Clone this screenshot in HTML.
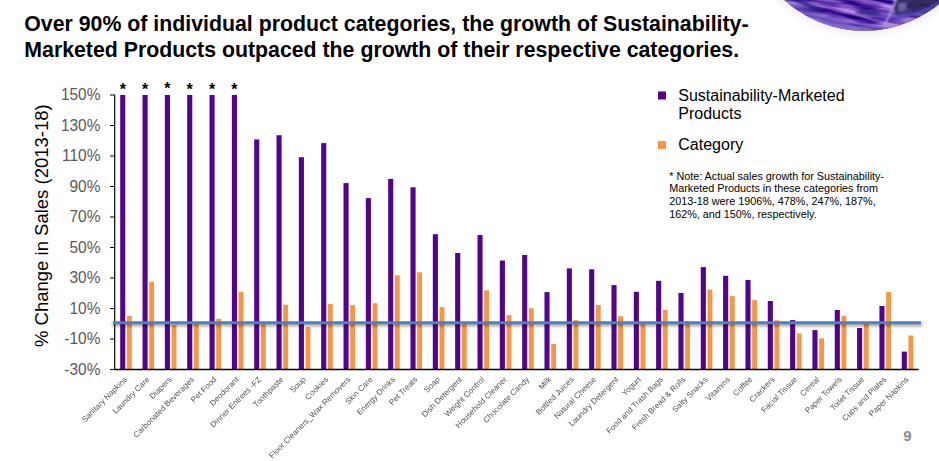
<!DOCTYPE html>
<html><head><meta charset="utf-8"><style>
html,body{margin:0;padding:0;background:#fff;width:939px;height:461px;overflow:hidden;position:relative}
svg{display:block;position:absolute;left:0;top:0}
.lay{will-change:transform}
text{font-family:"Liberation Sans",sans-serif}
.t{font-weight:bold;font-size:21.3px;fill:#000}
.yl{font-size:15px;fill:#595959}
.xl{font-size:8px;fill:#505050}
.star{font-size:16px;font-weight:bold;fill:#000}
.lg{font-size:16px;fill:#000}
.nt{font-size:10.8px;fill:#000}
</style></head><body>
<svg width="939" height="461" viewBox="0 0 939 461">
<defs>
<filter id="tex" x="0" y="0" width="100%" height="100%" color-interpolation-filters="sRGB"><feTurbulence type="fractalNoise" baseFrequency="0.025 0.2" numOctaves="3" seed="7"/><feColorMatrix type="matrix" values="1.2 0 0 0 -0.19  1.1 0 0 0 -0.3  0.8 0 0 0 0.3  0 0 0 0 1"/></filter>
<filter id="gb2" x="-20%" y="-50%" width="140%" height="200%"><feGaussianBlur stdDeviation="0.9"/></filter>
<clipPath id="gclip"><circle cx="864" cy="-87.7" r="118.5"/></clipPath>
<filter id="gb" x="-20%" y="-50%" width="140%" height="200%"><feGaussianBlur stdDeviation="1.3"/></filter>
<filter id="bl" x="-5%" y="-300%" width="110%" height="700%"><feGaussianBlur stdDeviation="1.5"/></filter>
<linearGradient id="sh" x1="0" y1="0" x2="0" y2="1"><stop offset="0" stop-color="#000" stop-opacity="0.35"/><stop offset="1" stop-color="#000" stop-opacity="0"/></linearGradient>
<radialGradient id="gl" cx="0.5" cy="0.5" r="0.5"><stop offset="0" stop-color="#6a5cc4"/><stop offset="0.85" stop-color="#5a4bb5"/><stop offset="1" stop-color="#7d70d0"/></radialGradient>
<radialGradient id="glsh" cx="0.5" cy="0.5" r="0.5"><stop offset="0.9" stop-color="#000" stop-opacity="0.07"/><stop offset="1" stop-color="#000" stop-opacity="0"/></radialGradient>
</defs>
<circle cx="864" cy="-87.5" r="128" fill="url(#glsh)"/>
<g clip-path="url(#gclip)">
<rect x="740" y="-10" width="210" height="50" fill="#5246b6"/>
<rect x="740" y="-10" width="210" height="50" filter="url(#tex)" transform="rotate(8 860 10)"/>
<g filter="url(#gb)" opacity="0.8">
<path d="M782 -2 Q820 14 862 28 L800 40 Z" fill="#8a7bd6" opacity="0.6"/>
<ellipse cx="808" cy="5" rx="20" ry="2.6" transform="rotate(25 808 5)" fill="#2a2288"/>
<ellipse cx="868" cy="13" rx="13" ry="2.4" transform="rotate(5 868 13)" fill="#2a2080"/>
<path d="M800 16 Q850 30 905 25 L900 34 L800 34 Z" fill="#9284d6" opacity="0.7"/>
</g>
<g filter="url(#gb2)">
<path d="M897 -2 L939 -2 L939 6 L928 12 L912 16 L898 18 L893 8 Z" fill="#2c2350" opacity="0.85"/>
<ellipse cx="905" cy="12" rx="7" ry="4" fill="#4a3a8a" opacity="0.7"/>
<path d="M898 3 L907 3 L905 10 L899 11 Z" fill="#6a63a0"/>
<path d="M896 -1 L891 12 L884 26" stroke="#a69ceb" stroke-width="2" fill="none"/>
<path d="M894 16 Q915 18 939 3" stroke="#4d4fc8" stroke-width="2.4" fill="none"/>
</g>
</g>
<text x="24.3" y="30.8" class="t">Over 90% of individual product categories, the growth of Sustainability-</text>
<text x="24.3" y="56.8" class="t">Marketed Products outpaced the growth of their respective categories.</text>
<rect x="120.2" y="95" width="5.1" height="274.5" fill="#53048b"/>
<rect x="126.9" y="316" width="4.9" height="53.5" fill="#f79646"/>
<rect x="142.53" y="95" width="5.1" height="274.5" fill="#53048b"/>
<rect x="149.23" y="281.8" width="4.9" height="87.7" fill="#f79646"/>
<rect x="164.86" y="95" width="5.1" height="274.5" fill="#53048b"/>
<rect x="171.56" y="324.9" width="4.9" height="44.6" fill="#f79646"/>
<rect x="187.19" y="95" width="5.1" height="274.5" fill="#53048b"/>
<rect x="193.89" y="323" width="4.9" height="46.5" fill="#f79646"/>
<rect x="209.52" y="95" width="5.1" height="274.5" fill="#53048b"/>
<rect x="216.22" y="318.9" width="4.9" height="50.6" fill="#f79646"/>
<rect x="231.85" y="95" width="5.1" height="274.5" fill="#53048b"/>
<rect x="238.55" y="291.7" width="4.9" height="77.8" fill="#f79646"/>
<rect x="254.18" y="139.4" width="5.1" height="230.1" fill="#53048b"/>
<rect x="260.88" y="324.2" width="4.9" height="45.3" fill="#f79646"/>
<rect x="276.51" y="135.2" width="5.1" height="234.3" fill="#53048b"/>
<rect x="283.21" y="304.7" width="4.9" height="64.8" fill="#f79646"/>
<rect x="298.84" y="157.2" width="5.1" height="212.3" fill="#53048b"/>
<rect x="305.54" y="327.1" width="4.9" height="42.4" fill="#f79646"/>
<rect x="321.17" y="143.1" width="5.1" height="226.4" fill="#53048b"/>
<rect x="327.87" y="304.1" width="4.9" height="65.4" fill="#f79646"/>
<rect x="343.5" y="183.1" width="5.1" height="186.4" fill="#53048b"/>
<rect x="350.2" y="305.1" width="4.9" height="64.4" fill="#f79646"/>
<rect x="365.83" y="198.1" width="5.1" height="171.4" fill="#53048b"/>
<rect x="372.53" y="303.2" width="4.9" height="66.3" fill="#f79646"/>
<rect x="388.16" y="178.9" width="5.1" height="190.6" fill="#53048b"/>
<rect x="394.86" y="275.3" width="4.9" height="94.2" fill="#f79646"/>
<rect x="410.49" y="187.3" width="5.1" height="182.2" fill="#53048b"/>
<rect x="417.19" y="272.3" width="4.9" height="97.2" fill="#f79646"/>
<rect x="432.82" y="234.2" width="5.1" height="135.3" fill="#53048b"/>
<rect x="439.52" y="307.1" width="4.9" height="62.4" fill="#f79646"/>
<rect x="455.15" y="253" width="5.1" height="116.5" fill="#53048b"/>
<rect x="461.85" y="324.2" width="4.9" height="45.3" fill="#f79646"/>
<rect x="477.48" y="235" width="5.1" height="134.5" fill="#53048b"/>
<rect x="484.18" y="290.4" width="4.9" height="79.1" fill="#f79646"/>
<rect x="499.81" y="260.5" width="5.1" height="109" fill="#53048b"/>
<rect x="506.51" y="315.1" width="4.9" height="54.4" fill="#f79646"/>
<rect x="522.14" y="255" width="5.1" height="114.5" fill="#53048b"/>
<rect x="528.84" y="308.2" width="4.9" height="61.3" fill="#f79646"/>
<rect x="544.47" y="292.1" width="5.1" height="77.4" fill="#53048b"/>
<rect x="551.17" y="344" width="4.9" height="25.5" fill="#f79646"/>
<rect x="566.8" y="268.4" width="5.1" height="101.1" fill="#53048b"/>
<rect x="573.5" y="320.2" width="4.9" height="49.3" fill="#f79646"/>
<rect x="589.13" y="269.3" width="5.1" height="100.2" fill="#53048b"/>
<rect x="595.83" y="305" width="4.9" height="64.5" fill="#f79646"/>
<rect x="611.46" y="285.1" width="5.1" height="84.4" fill="#53048b"/>
<rect x="618.16" y="316.2" width="4.9" height="53.3" fill="#f79646"/>
<rect x="633.79" y="291.8" width="5.1" height="77.7" fill="#53048b"/>
<rect x="640.49" y="324" width="4.9" height="45.5" fill="#f79646"/>
<rect x="656.12" y="280.8" width="5.1" height="88.7" fill="#53048b"/>
<rect x="662.82" y="309.9" width="4.9" height="59.6" fill="#f79646"/>
<rect x="678.45" y="293" width="5.1" height="76.5" fill="#53048b"/>
<rect x="685.15" y="321.1" width="4.9" height="48.4" fill="#f79646"/>
<rect x="700.78" y="267.1" width="5.1" height="102.4" fill="#53048b"/>
<rect x="707.48" y="289.6" width="4.9" height="79.9" fill="#f79646"/>
<rect x="723.11" y="275.8" width="5.1" height="93.7" fill="#53048b"/>
<rect x="729.81" y="296.1" width="4.9" height="73.4" fill="#f79646"/>
<rect x="745.44" y="280" width="5.1" height="89.5" fill="#53048b"/>
<rect x="752.14" y="300.1" width="4.9" height="69.4" fill="#f79646"/>
<rect x="767.77" y="301" width="5.1" height="68.5" fill="#53048b"/>
<rect x="774.47" y="320.3" width="4.9" height="49.2" fill="#f79646"/>
<rect x="790.1" y="320.1" width="5.1" height="49.4" fill="#53048b"/>
<rect x="796.8" y="333.5" width="4.9" height="36" fill="#f79646"/>
<rect x="812.43" y="330.1" width="5.1" height="39.4" fill="#53048b"/>
<rect x="819.13" y="338.3" width="4.9" height="31.2" fill="#f79646"/>
<rect x="834.76" y="310" width="5.1" height="59.5" fill="#53048b"/>
<rect x="841.46" y="316.1" width="4.9" height="53.4" fill="#f79646"/>
<rect x="857.09" y="328" width="5.1" height="41.5" fill="#53048b"/>
<rect x="863.79" y="323.9" width="4.9" height="45.6" fill="#f79646"/>
<rect x="879.42" y="306" width="5.1" height="63.5" fill="#53048b"/>
<rect x="886.12" y="291.9" width="4.9" height="77.6" fill="#f79646"/>
<rect x="901.75" y="351.6" width="5.1" height="17.9" fill="#53048b"/>
<rect x="908.45" y="335.5" width="4.9" height="34" fill="#f79646"/>
<text x="122.75" y="95.3" text-anchor="middle" class="star">*</text>
<text x="145.08" y="95.3" text-anchor="middle" class="star">*</text>
<text x="167.41" y="94.2" text-anchor="middle" class="star">*</text>
<text x="189.74" y="95.3" text-anchor="middle" class="star">*</text>
<text x="212.07" y="95.3" text-anchor="middle" class="star">*</text>
<text x="234.4" y="95.3" text-anchor="middle" class="star">*</text>
<path d="M114.7 94.8V369.5" stroke="#000" stroke-width="1.2" fill="none"/>
<path d="M114 369.5H918.6" stroke="#000" stroke-width="1.4" fill="none"/>
<path d="M110 95H114.7M110 125.5H114.7M110 156H114.7M110 186.5H114.7M110 217H114.7M110 247.5H114.7M110 278H114.7M110 308.5H114.7M110 339H114.7M110 369.5H114.7" stroke="#000" stroke-width="1.2" fill="none"/>
<text transform="translate(100.4 100.2) scale(1.03 1.07)" text-anchor="end" class="yl">150%</text>
<text transform="translate(100.4 130.7) scale(1.03 1.07)" text-anchor="end" class="yl">130%</text>
<text transform="translate(100.4 161.2) scale(1.03 1.07)" text-anchor="end" class="yl">110%</text>
<text transform="translate(100.4 191.7) scale(1.03 1.07)" text-anchor="end" class="yl">90%</text>
<text transform="translate(100.4 222.2) scale(1.03 1.07)" text-anchor="end" class="yl">70%</text>
<text transform="translate(100.4 252.7) scale(1.03 1.07)" text-anchor="end" class="yl">50%</text>
<text transform="translate(100.4 283.2) scale(1.03 1.07)" text-anchor="end" class="yl">30%</text>
<text transform="translate(100.4 313.7) scale(1.03 1.07)" text-anchor="end" class="yl">10%</text>
<text transform="translate(100.4 344.2) scale(1.03 1.07)" text-anchor="end" class="yl">-10%</text>
<text transform="translate(100.4 374.7) scale(1.03 1.07)" text-anchor="end" class="yl">-30%</text>
<rect x="112" y="323.2" width="810" height="3" fill="#000" fill-opacity="0.4" filter="url(#bl)"/>
<path d="M113 322.7H921" stroke="#4f81bd" stroke-width="3"/>
<rect x="658" y="91.5" width="8" height="8" fill="#53048b"/>
<rect x="658" y="141" width="8" height="8" fill="#f79646"/>
<text x="678.3" y="100.7" class="lg">Sustainability-Marketed</text>
<text x="678.3" y="118.6" class="lg">Products</text>
<text x="678.3" y="149.9" class="lg">Category</text>
<text x="669.2" y="179.6" class="nt">* Note: Actual sales growth for Sustainability-</text>
<text x="669.2" y="192.4" class="nt">Marketed Products in these categories from</text>
<text x="669.2" y="205.2" class="nt">2013-18 were 1906%, 478%, 247%, 187%,</text>
<text x="669.2" y="218" class="nt">162%, and 150%, respectively.</text>
<text x="903.3" y="441.2" style="font-size:15px;font-weight:bold;fill:#8a8a8a">9</text>
<text transform="translate(47.6 347) rotate(-90)" style="font-size:18.5px;fill:#000">% Change in Sales (2013-18)</text>
</svg>
<svg class="lay" width="939" height="461" viewBox="0 0 939 461">
<text transform="translate(127.66 380) rotate(-45)" text-anchor="end" class="xl">Sanitary Napkins</text>
<text transform="translate(150 380) rotate(-45)" text-anchor="end" class="xl">Laundry Care</text>
<text transform="translate(172.32 380) rotate(-45)" text-anchor="end" class="xl">Diapers</text>
<text transform="translate(194.66 380) rotate(-45)" text-anchor="end" class="xl">Carbonated Beverages</text>
<text transform="translate(216.98 380) rotate(-45)" text-anchor="end" class="xl">Pet Food</text>
<text transform="translate(239.31 380) rotate(-45)" text-anchor="end" class="xl">Deodorant</text>
<text transform="translate(261.64 380) rotate(-45)" text-anchor="end" class="xl">Dinner Entrees -FZ</text>
<text transform="translate(283.98 380) rotate(-45)" text-anchor="end" class="xl">Toothpaste</text>
<text transform="translate(306.3 380) rotate(-45)" text-anchor="end" class="xl">Soup</text>
<text transform="translate(328.63 380) rotate(-45)" text-anchor="end" class="xl">Cookies</text>
<text transform="translate(350.96 380) rotate(-45)" text-anchor="end" class="xl">Floor Cleaners_Wax Removers</text>
<text transform="translate(373.29 380) rotate(-45)" text-anchor="end" class="xl">Skin Care</text>
<text transform="translate(395.62 380) rotate(-45)" text-anchor="end" class="xl">Energy Drinks</text>
<text transform="translate(417.95 380) rotate(-45)" text-anchor="end" class="xl">Pet Treats</text>
<text transform="translate(440.28 380) rotate(-45)" text-anchor="end" class="xl">Soap</text>
<text transform="translate(462.61 380) rotate(-45)" text-anchor="end" class="xl">Dish Detergent</text>
<text transform="translate(484.94 380) rotate(-45)" text-anchor="end" class="xl">Weight Control</text>
<text transform="translate(507.27 380) rotate(-45)" text-anchor="end" class="xl">Household Cleaner</text>
<text transform="translate(529.61 380) rotate(-45)" text-anchor="end" class="xl">Chocolate Candy</text>
<text transform="translate(551.93 380) rotate(-45)" text-anchor="end" class="xl">Milk</text>
<text transform="translate(574.26 380) rotate(-45)" text-anchor="end" class="xl">Bottled Juices</text>
<text transform="translate(596.6 380) rotate(-45)" text-anchor="end" class="xl">Natural Cheese</text>
<text transform="translate(618.92 380) rotate(-45)" text-anchor="end" class="xl">Laundry Detergent</text>
<text transform="translate(641.25 380) rotate(-45)" text-anchor="end" class="xl">Yogurt</text>
<text transform="translate(663.58 380) rotate(-45)" text-anchor="end" class="xl">Food and Trash Bags</text>
<text transform="translate(685.91 380) rotate(-45)" text-anchor="end" class="xl">Fresh Bread &amp; Rolls</text>
<text transform="translate(708.25 380) rotate(-45)" text-anchor="end" class="xl">Salty Snacks</text>
<text transform="translate(730.57 380) rotate(-45)" text-anchor="end" class="xl">Vitamins</text>
<text transform="translate(752.9 380) rotate(-45)" text-anchor="end" class="xl">Coffee</text>
<text transform="translate(775.23 380) rotate(-45)" text-anchor="end" class="xl">Crackers</text>
<text transform="translate(797.56 380) rotate(-45)" text-anchor="end" class="xl">Facial Tissue</text>
<text transform="translate(819.89 380) rotate(-45)" text-anchor="end" class="xl">Cereal</text>
<text transform="translate(842.22 380) rotate(-45)" text-anchor="end" class="xl">Paper Towels</text>
<text transform="translate(864.55 380) rotate(-45)" text-anchor="end" class="xl">Toilet Tissue</text>
<text transform="translate(886.88 380) rotate(-45)" text-anchor="end" class="xl">Cups and Plates</text>
<text transform="translate(909.21 380) rotate(-45)" text-anchor="end" class="xl">Paper Napkins</text>
</svg>
</body></html>
